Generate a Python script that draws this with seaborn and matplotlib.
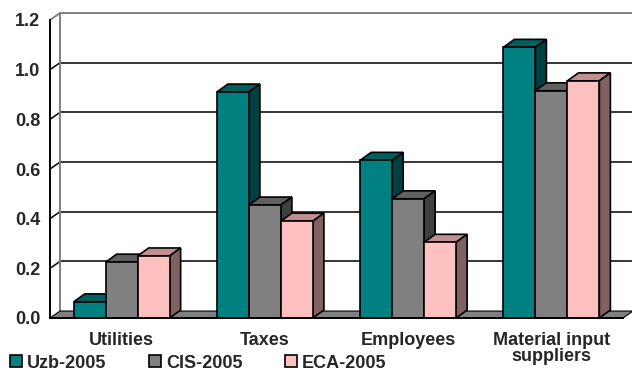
import matplotlib
matplotlib.use("Agg")
import matplotlib.pyplot as plt
from matplotlib.patches import Polygon, Patch
import pandas as pd
import seaborn as sns

# chart data
categories = ["Utilities", "Taxes", "Employees", "Material input\nsuppliers"]
series = ["Uzb-2005", "CIS-2005", "ECA-2005"]
uzb = [0.065, 0.91, 0.635, 1.09]
cis = [0.225, 0.455, 0.48, 0.915]
eca = [0.25, 0.39, 0.305, 0.955]
y_ticks = [0.0, 0.2, 0.4, 0.6, 0.8, 1.0, 1.2]

# face colours: front, top, side
front_colors = ["#008080", "#808080", "#FFC0C0"]
top_colors = ["#006060", "#606060", "#C09090"]
side_colors = ["#004040", "#404040", "#806060"]

# depth of the fake 3d look, in data units
bar_dx, bar_dy = 0.077, 0.032
wall_dx, wall_dy = 0.07, 0.028

sns.set_style("white")
plt.rcParams["font.family"] = ["Liberation Sans", "DejaVu Sans"]
plt.rcParams["font.weight"] = "bold"

df = pd.DataFrame({
    "category": categories * 3,
    "series": [s for s in series for _ in categories],
    "value": uzb + cis + eca,
})

fig = plt.figure(figsize=(6.32, 3.73), dpi=100)
ax = fig.add_axes([50 / 632, 55 / 373, 573 / 632, 298 / 373])
ax.set_facecolor("none")

sns.barplot(data=df, x="category", y="value", hue="series", order=categories,
            hue_order=series, palette=front_colors, width=0.67, gap=0,
            saturation=1, edgecolor="black", linewidth=1.2, legend=False, ax=ax)

ax.set_xlim(-0.5, 3.5)
ax.set_ylim(0, 1.2)

# back wall, left wall and floor
x_left, x_right = -0.5, 3.5
floor = Polygon([(x_left, 0), (x_right, 0), (x_right + wall_dx, wall_dy), (x_left + wall_dx, wall_dy)],
                closed=True, facecolor="#808080", edgecolor="black", linewidth=0.8,
                clip_on=False, zorder=1.5)
ax.add_patch(floor)
for v in y_ticks[1:-1]:
    ax.plot([x_left + wall_dx, x_right + wall_dx], [v + wall_dy] * 2, color="black", lw=1.1,
            clip_on=False, zorder=1)
    ax.plot([x_left, x_left + wall_dx], [v, v + wall_dy], color="black", lw=1.1,
            clip_on=False, zorder=1)
top_v = y_ticks[-1]
ax.plot([x_left, x_left + wall_dx, x_right + wall_dx], [top_v, top_v + wall_dy, top_v + wall_dy],
        color="#808080", lw=1.4, clip_on=False, zorder=1)
ax.plot([x_left + wall_dx, x_left + wall_dx], [wall_dy, top_v + wall_dy],
        color="#808080", lw=1.4, clip_on=False, zorder=1)

# top and side faces of every bar
for i, p in enumerate(ax.patches[:len(series) * len(categories)]):
    k = i // len(categories)
    x0, w, h = p.get_x(), p.get_width(), p.get_height()
    z = 3 + 3 * k
    top = Polygon([(x0, h), (x0 + w, h), (x0 + w + bar_dx, h + bar_dy), (x0 + bar_dx, h + bar_dy)],
                  closed=True, facecolor=top_colors[k], edgecolor="black", linewidth=1.2,
                  clip_on=False, zorder=z)
    side = Polygon([(x0 + w, 0), (x0 + w + bar_dx, bar_dy), (x0 + w + bar_dx, h + bar_dy), (x0 + w, h)],
                   closed=True, facecolor=side_colors[k], edgecolor="black", linewidth=1.2,
                   clip_on=False, zorder=z + 1)
    ax.add_patch(top)
    ax.add_patch(side)
    p.set_zorder(z + 2)
    p.set_clip_on(False)

# axes and ticks
sns.despine(ax=ax, top=True, right=True)
for s in ["left", "bottom"]:
    ax.spines[s].set_color("black")
    ax.spines[s].set_linewidth(1.4)
    ax.spines[s].set_zorder(20)

ax.set_xticks([-0.5, 0.5, 1.5, 2.5, 3.5])
ax.set_xticklabels([])
ax.set_xticks(range(len(categories)), minor=True)
ax.set_xticklabels(categories, minor=True)
for lab in ax.get_xticklabels(minor=True):
    lab.set_linespacing(0.95)
ax.tick_params(axis="x", which="major", direction="out", length=5, width=1.2, color="black")
ax.tick_params(axis="x", which="minor", length=0, pad=10, labelsize=13)
ax.set_yticks(y_ticks)
ax.set_yticklabels([f"{v:.1f}" for v in y_ticks])
ax.tick_params(axis="y", direction="out", length=5, width=1.2, pad=2, labelsize=13, color="black")
ax.set_xlabel("")
ax.set_ylabel("")

handles = [Patch(facecolor=c, edgecolor="black", linewidth=1.2) for c in front_colors]
fig.legend(handles, series, loc="center left", bbox_to_anchor=(10 / 632, 10 / 373), ncol=3,
           frameon=False, handlelength=0.65, handleheight=0.65, handletextpad=0.3,
           columnspacing=2.35, fontsize=13, borderpad=0, borderaxespad=0)

fig.savefig("out.png", dpi=100)
